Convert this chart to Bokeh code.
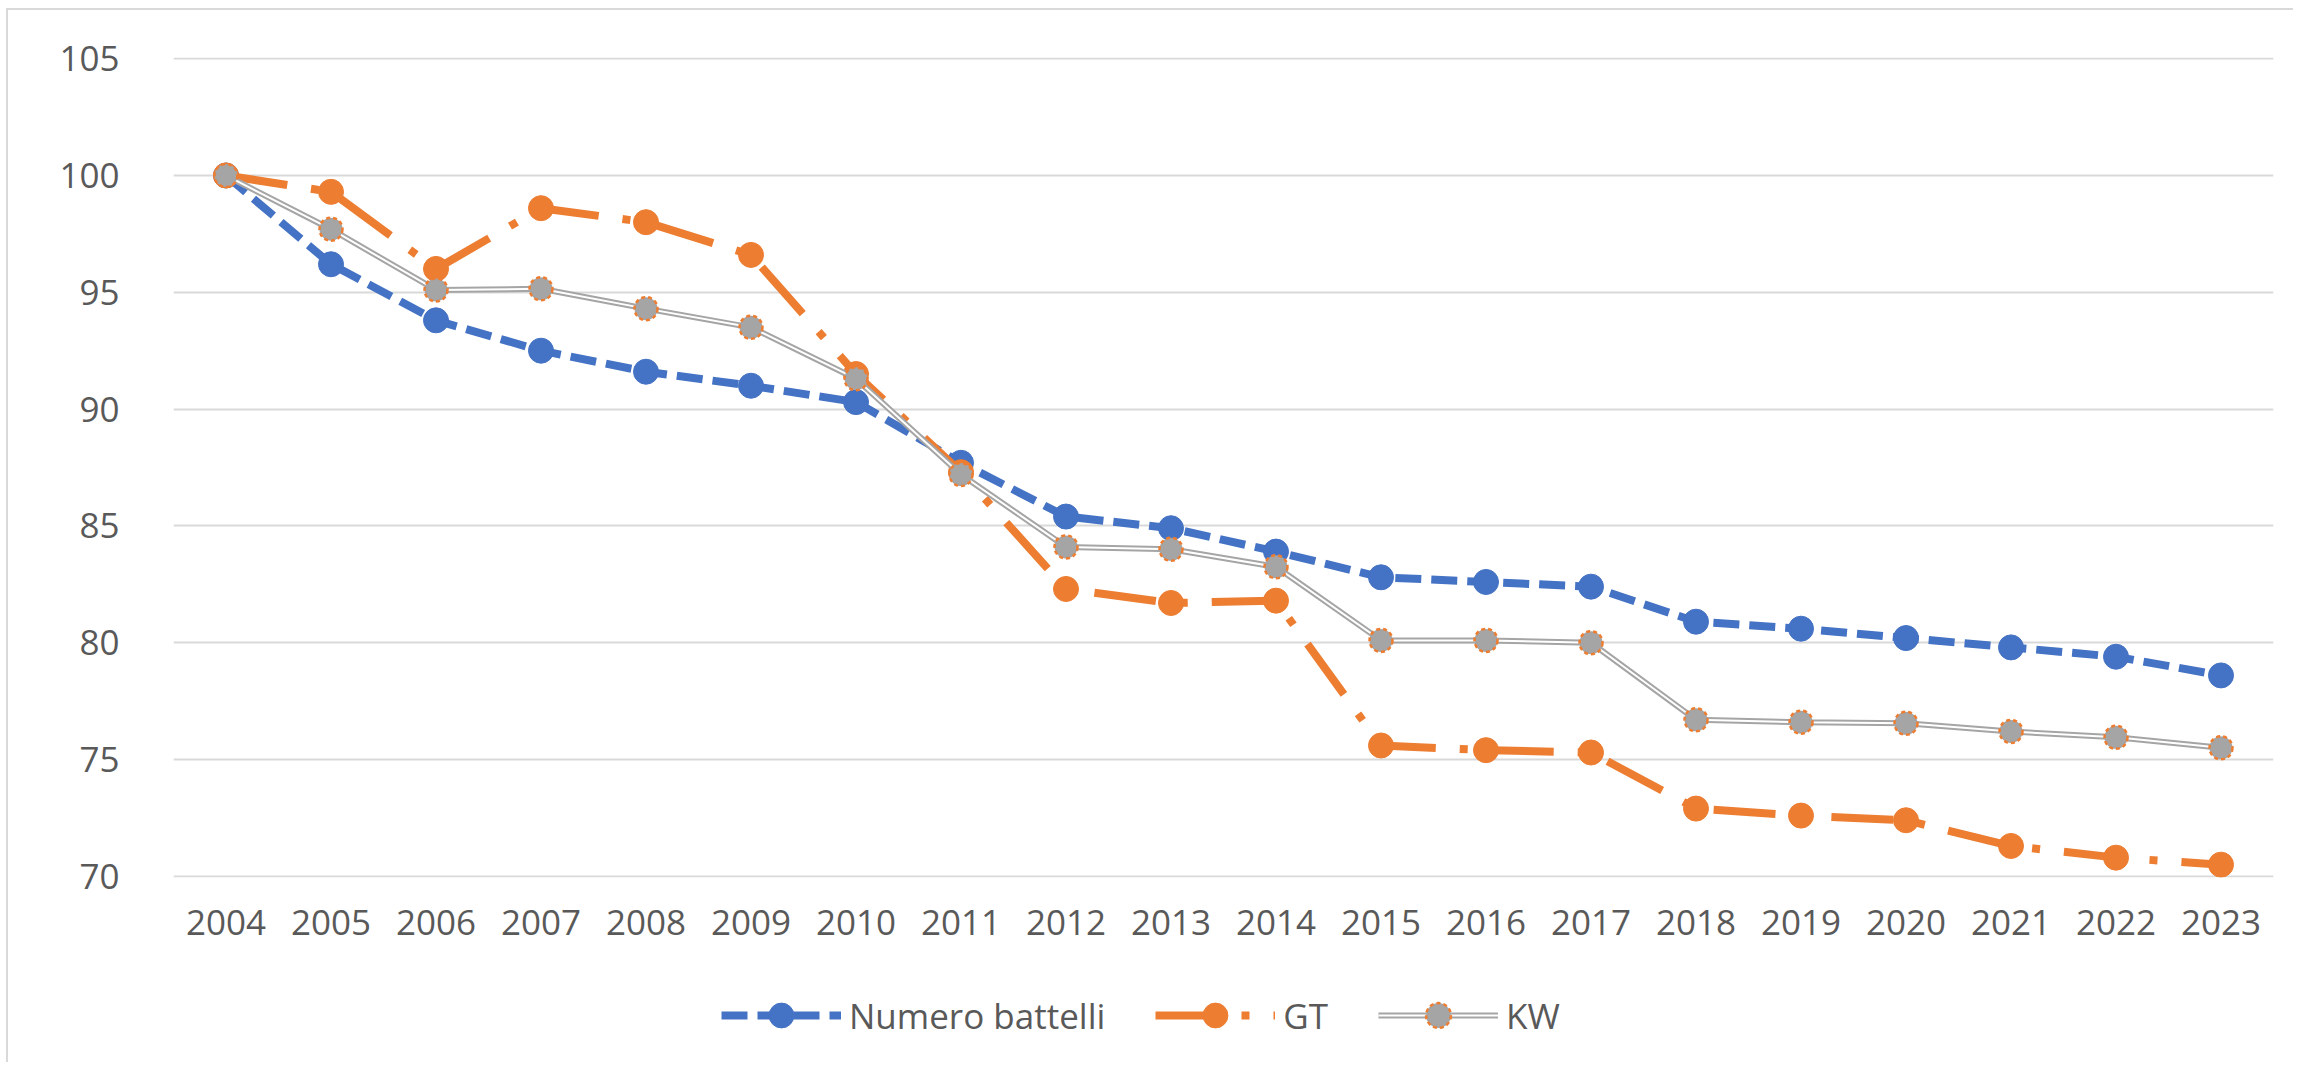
from bokeh.plotting import figure
from bokeh.layouts import column
from bokeh.models import Legend, LegendItem, FixedTicker, ColumnDataSource
from bokeh.embed import file_html
from bokeh.resources import INLINE

years = [str(y) for y in range(2004, 2024)]
numero_battelli = [100, 96.2, 93.8, 92.5, 91.6, 91.0, 90.3, 87.7, 85.4, 84.9, 83.9,
                   82.8, 82.6, 82.4, 80.9, 80.6, 80.2, 79.8, 79.4, 78.6]
gt = [100, 99.3, 96.0, 98.6, 98.0, 96.6, 91.5, 87.3, 82.3, 81.7, 81.8,
      75.6, 75.4, 75.3, 72.9, 72.6, 72.4, 71.3, 70.8, 70.5]
kw = [100, 97.7, 95.1, 95.15, 94.3, 93.5, 91.3, 87.2, 84.1, 84.0, 83.25,
      80.1, 80.1, 80.0, 76.7, 76.6, 76.55, 76.2, 75.95, 75.5]
y_ticks = [70, 75, 80, 85, 90, 95, 100, 105]

BLUE = "#4472C4"
ORANGE = "#ED7D31"
GREY = "#A5A5A5"
TEXT = "#595959"
FONT = "Open Sans"

src = ColumnDataSource(dict(x=years, nb=numero_battelli, gt=gt, kw=kw))


def draw_series(fig):
    r_nb_l = fig.line("x", "nb", source=src, line_color=BLUE, line_width=8, line_dash="26 10")
    r_nb_m = fig.scatter("x", "nb", source=src, marker="circle", size=25,
                         fill_color=BLUE, line_color=BLUE)
    r_gt_l = fig.line("x", "gt", source=src, line_color=ORANGE, line_width=8,
                      line_dash="62 24 8 24")
    r_gt_m = fig.scatter("x", "gt", source=src, marker="circle", size=25,
                         fill_color=ORANGE, line_color=ORANGE)
    r_kw_l1 = fig.line("x", "kw", source=src, line_color=GREY, line_width=6)
    r_kw_l2 = fig.line("x", "kw", source=src, line_color="white", line_width=2)
    r_kw_m = fig.scatter("x", "kw", source=src, marker="circle", size=23,
                         fill_color=GREY, line_color=ORANGE, line_width=2.5, line_dash="4 3")
    return [("Numero battelli", [r_nb_l, r_nb_m]), ("GT", [r_gt_l, r_gt_m]),
            ("KW", [r_kw_l1, r_kw_l2, r_kw_m])]


p = figure(x_range=years, y_range=(69.95, 105.05), frame_width=2100, frame_height=820,
           output_backend="svg", toolbar_location=None,
           min_border_left=165, min_border_right=20, min_border_top=47,
           min_border_bottom=85)
p.outline_line_color = None
p.background_fill_color = "white"
p.border_fill_color = "white"
p.xgrid.grid_line_color = None
p.ygrid.grid_line_color = "#D9D9D9"
p.ygrid.grid_line_width = 2
p.yaxis.ticker = FixedTicker(ticks=y_ticks)
for ax in (p.xaxis[0], p.yaxis[0]):
    ax.axis_line_color = None
    ax.major_tick_line_color = None
    ax.minor_tick_line_color = None
    ax.major_label_text_font = FONT
    ax.major_label_text_font_size = "35px"
    ax.major_label_text_color = TEXT
p.yaxis.major_label_standoff = 48
p.xaxis.major_label_standoff = 26
draw_series(p)

# legend strip (series drawn out of view, only the legend shows)
pl = figure(x_range=years, y_range=(0, 1), width=2285, height=100,
            output_backend="svg", toolbar_location=None,
            min_border_left=0, min_border_right=0, min_border_top=0, min_border_bottom=0)
pl.axis.visible = False
pl.grid.visible = False
pl.outline_line_color = None
items = draw_series(pl)
legend = Legend(items=[LegendItem(label=l, renderers=r) for l, r in items],
                orientation="horizontal", location=(548, 16))
legend.label_text_font = FONT
legend.label_text_font_size = "35px"
legend.label_text_color = TEXT
legend.glyph_width = 120
legend.glyph_height = 62
legend.spacing = 50
legend.label_standoff = 8
legend.border_line_color = None
legend.background_fill_alpha = 0
legend.padding = 0
legend.margin = 0
pl.add_layout(legend)

layout = column(p, pl, spacing=0)
layout.styles = {"border-left": "2px solid #d9d9d9", "border-top": "2px solid #d9d9d9",
                 "margin-left": "6px", "margin-top": "8px"}

open("out.html", "w").write(file_html(layout, INLINE))
